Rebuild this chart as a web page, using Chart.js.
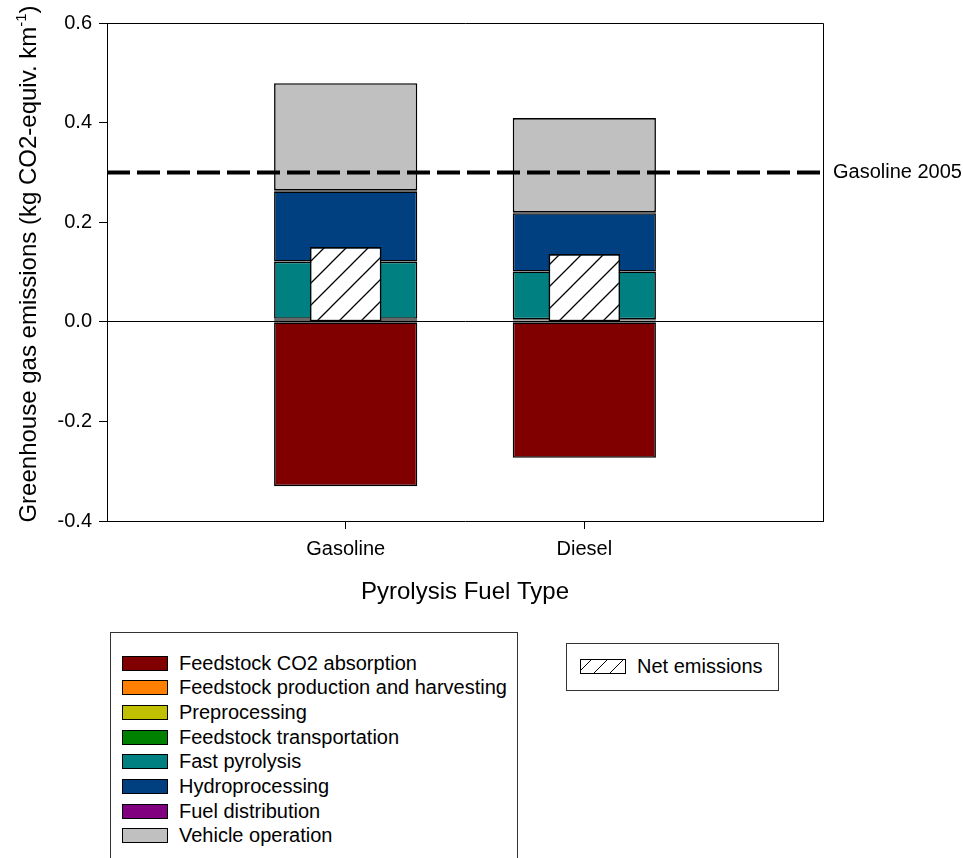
<!DOCTYPE html>
<html lang="en">
<head>
    <meta charset="UTF-8">
    <title>Pyrolysis fuel GHG emissions</title>
    <script src="https://cdn.jsdelivr.net/npm/chart.js"></script>
    <style>
        body { margin: 0; background: #fff; font-family: "Liberation Sans", Arial, sans-serif; }
        #wrap { position: relative; width: 963px; height: 858px; overflow: hidden; }
        .legend-box {
            position: absolute;
            border: 1px solid #333;
            background: #fff;
            box-sizing: border-box;
        }
        .legend-row {
            position: absolute;
            left: 11px;
            height: 20px;
            display: flex;
            align-items: center;
            font-size: 20px;
            color: #000;
            white-space: nowrap;
        }
        .swatch {
            width: 44px;
            height: 13px;
            border: 1px solid #000;
            margin-right: 11px;
            flex: none;
        }
    </style>
</head>
<body>
    <div id="wrap">
        <canvas id="ghgChart"></canvas>
        <div class="legend-box" id="stageLegend" style="left:110px; top:632px; width:408px; height:240px;"></div>
        <div class="legend-box" id="netLegend" style="left:566px; top:643px; width:213px; height:48px;"></div>
    </div>

    <script>
        // data (kg CO2-equiv. per km)
        const fuelTypes = ['Gasoline', 'Diesel'];
        const stages = [
            'Feedstock CO2 absorption',
            'Feedstock production and harvesting',
            'Preprocessing',
            'Feedstock transportation',
            'Fast pyrolysis',
            'Hydroprocessing',
            'Fuel distribution',
            'Vehicle operation'
        ];
        const co2Absorption   = [-0.330, -0.273];
        const feedProduction  = [0.003, 0.002];
        const preprocessing   = [0.001, 0.001];
        const feedTransport   = [0.002, 0.002];
        const fastPyrolysis   = [0.115, 0.096];
        const hydroprocessing = [0.141, 0.117];
        const fuelDistrib     = [0.002, 0.002];
        const vehicleOp       = [0.215, 0.189];
        const netEmissions    = [0.150, 0.136];
        const gasoline2005 = 0.3;
        const yTicks = [-0.4, -0.2, 0.0, 0.2, 0.4, 0.6];

        const stageValues = [co2Absorption, feedProduction, preprocessing, feedTransport,
                             fastPyrolysis, hydroprocessing, fuelDistrib, vehicleOp];
        const stageColors = ['#800000', '#ff8000', '#c0c000', '#008000',
                             '#008080', '#004080', '#800080', '#c0c0c0'];

        // padded category axis so the two bars sit at 1/3 and 2/3 of the width
        const axisLabels = ['', ...fuelTypes, ''];
        const pad = arr => [null, ...arr, null];

        // hatch pattern for net emissions
        function makeHatch() {
            const s = 22;
            const c = document.createElement('canvas');
            c.width = s; c.height = s;
            const g = c.getContext('2d');
            g.fillStyle = '#fff';
            g.fillRect(0, 0, s, s);
            g.strokeStyle = '#000';
            g.lineWidth = 1.3;
            g.beginPath();
            g.moveTo(-2, s + 2); g.lineTo(s + 2, -2);
            g.moveTo(-2, 2); g.lineTo(2, -2);
            g.moveTo(s - 2, s + 2); g.lineTo(s + 2, s - 2);
            g.stroke();
            return g.createPattern(c, 'repeat');
        }
        const hatch = makeHatch();

        const datasets = [{
            label: 'Net emissions',
            data: pad(netEmissions),
            stack: 'net',
            backgroundColor: hatch,
            barPercentage: 0.3
        }];
        stages.forEach((name, i) => {
            datasets.push({
                label: name,
                data: pad(stageValues[i]),
                stack: 'total',
                backgroundColor: stageColors[i],
                barPercentage: 0.6
            });
        });
        datasets.forEach(d => {
            d.borderColor = '#000';
            d.borderWidth = 1.6;
            d.borderSkipped = false;
            d.categoryPercentage = 1;
            d.grouped = false;
        });

        const FONT = '"Liberation Sans", Arial, sans-serif';

        const extras = {
            id: 'extras',
            afterDatasetsDraw(chart) {
                const { ctx, chartArea: a, scales } = chart;
                const y0 = scales.y.getPixelForValue(gasoline2005);
                ctx.save();
                // frame top/right
                ctx.strokeStyle = '#000';
                ctx.lineWidth = 1;
                ctx.beginPath();
                ctx.moveTo(a.left, a.top + 0.5);
                ctx.lineTo(a.right + 0.5, a.top + 0.5);
                ctx.lineTo(a.right + 0.5, a.bottom);
                ctx.stroke();
                // reference line
                ctx.lineWidth = 4;
                ctx.setLineDash([23, 7]);
                ctx.beginPath();
                ctx.moveTo(a.left, y0);
                ctx.lineTo(a.right, y0);
                ctx.stroke();
                ctx.setLineDash([]);
                ctx.fillStyle = '#000';
                ctx.font = '20px ' + FONT;
                ctx.textBaseline = 'middle';
                ctx.fillText('Gasoline 2005', a.right + 10, y0);
                // x title
                ctx.font = '24px ' + FONT;
                ctx.textAlign = 'center';
                ctx.fillText('Pyrolysis Fuel Type', (a.left + a.right) / 2, 592);
                // y title with superscript
                const main = 'Greenhouse gas emissions (kg CO2-equiv. km';
                const sup = '-1';
                const tail = ')';
                ctx.textAlign = 'left';
                ctx.textBaseline = 'alphabetic';
                ctx.font = '24px ' + FONT;
                const w1 = ctx.measureText(main).width;
                const w3 = ctx.measureText(tail).width;
                ctx.font = '15px ' + FONT;
                const w2 = ctx.measureText(sup).width;
                const total = w1 + w2 + w3;
                ctx.translate(36, 264);
                ctx.rotate(-Math.PI / 2);
                let x = -total / 2;
                ctx.font = '24px ' + FONT;
                ctx.fillText(main, x, 0);
                x += w1;
                ctx.font = '15px ' + FONT;
                ctx.fillText(sup, x, -10);
                x += w2;
                ctx.font = '24px ' + FONT;
                ctx.fillText(tail, x, 0);
                ctx.restore();
            }
        };

        new Chart(document.getElementById('ghgChart'), {
            type: 'bar',
            data: { labels: axisLabels, datasets },
            options: {
                responsive: true,
                maintainAspectRatio: false,
                animation: false,
                layout: { padding: { left: 0, right: 140, top: 23, bottom: 277 } },
                plugins: { legend: { display: false }, tooltip: { enabled: false } },
                scales: {
                    x: {
                        stacked: true,
                        offset: false,
                        afterFit: s => { s.height = 60; },
                        grid: {
                            offset: false,
                            drawOnChartArea: false,
                            tickLength: 8,
                            tickColor: c => c.tick && c.tick.label ? '#000' : 'rgba(0,0,0,0)'
                        },
                        border: { color: '#000', width: 1 },
                        ticks: { color: '#000', font: { size: 20, family: FONT }, padding: 8, maxRotation: 0, autoSkip: false }
                    },
                    y: {
                        stacked: true,
                        min: -0.4,
                        max: 0.6,
                        afterFit: s => { s.width = 107; },
                        afterBuildTicks: s => { s.ticks = yTicks.map(v => ({ value: v })); },
                        grid: {
                            tickLength: 8,
                            tickColor: '#000',
                            color: c => c.tick && Math.abs(c.tick.value) < 1e-9 ? '#000' : 'rgba(0,0,0,0)',
                            lineWidth: 1
                        },
                        border: { color: '#000', width: 1 },
                        ticks: {
                            color: '#000',
                            font: { size: 20, family: FONT },
                            padding: 7,
                            callback: v => Number(v).toFixed(1)
                        }
                    }
                }
            },
            plugins: [extras]
        });

        // legends
        const stageLegend = document.getElementById('stageLegend');
        stages.forEach((name, i) => {
            const row = document.createElement('div');
            row.className = 'legend-row';
            row.style.top = (20 + i * 24.7) + 'px';
            row.innerHTML = '<div class="swatch" style="background:' + stageColors[i] + '"></div>' + name;
            stageLegend.appendChild(row);
        });
        const netLegend = document.getElementById('netLegend');
        const netRow = document.createElement('div');
        netRow.className = 'legend-row';
        netRow.style.left = '13px';
        netRow.style.top = '12px';
        netRow.innerHTML = '<div class="swatch" style="background: repeating-linear-gradient(-45deg, #fff 0 10px, #000 10px 11.3px);"></div>Net emissions';
        netLegend.appendChild(netRow);
    </script>
</body>
</html>
